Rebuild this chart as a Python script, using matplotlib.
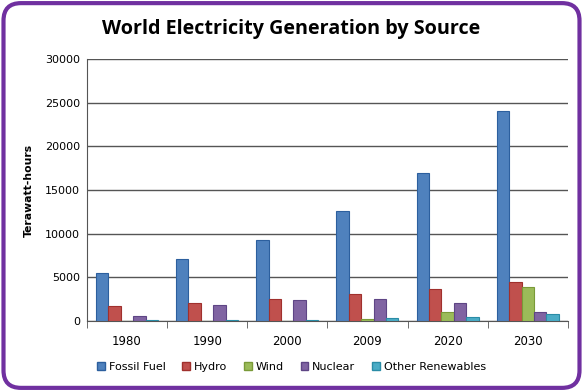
import matplotlib
matplotlib.use("Agg")
import matplotlib.pyplot as plt
from matplotlib.patches import FancyBboxPatch, Patch
import numpy as np

years = ["1980", "1990", "2000", "2009", "2020", "2030"]
series_names = ["Fossil Fuel", "Hydro", "Wind", "Nuclear", "Other Renewables"]
fossil = [5500, 7100, 9270, 12600, 16950, 24000]
hydro = [1720, 2060, 2520, 3090, 3660, 4470]
wind = [0, 40, 50, 270, 1030, 3900]
nuclear = [570, 1830, 2400, 2520, 2060, 1030]
other = [100, 100, 150, 340, 460, 800]
yticks = [0, 5000, 10000, 15000, 20000, 25000, 30000]

colors = ["#4F81BD", "#C0504D", "#9BBB59", "#8064A2", "#4BACC6"]
edges = ["#2C5F9E", "#A0302D", "#7A9A38", "#5E4585", "#2A8CA6"]

fig = plt.figure(figsize=(5.83, 3.91), dpi=100, facecolor="white")
border = FancyBboxPatch((0.006, 0.008), 0.988, 0.984, boxstyle="round,pad=0,rounding_size=0.03",
                        transform=fig.transFigure, facecolor="none", edgecolor="#7030A0",
                        linewidth=3, mutation_aspect=583/391, zorder=5)
fig.patches.append(border)

ax = fig.add_axes([0.149, 0.179, 0.825, 0.670])
ax.set_facecolor("none")
x = np.arange(len(years))
w = 0.155
data = [fossil, hydro, wind, nuclear, other]
for i, (vals, c, e) in enumerate(zip(data, colors, edges)):
    ax.bar(x + (i - 2) * w, vals, w, color=c, edgecolor=e, linewidth=0.8, zorder=3,
           label=series_names[i])

ax.set_xlim(-0.5, len(years) - 0.5)
ax.set_ylim(0, 30000)
ax.set_yticks(yticks)
ax.set_yticklabels([str(v) for v in yticks], fontsize=8, family="DejaVu Sans")
ax.yaxis.grid(True, color="#555555", linewidth=1, zorder=0)
ax.set_xticks(x)
ax.set_xticklabels(years, fontsize=8.5)
ax.tick_params(axis="x", length=0, pad=10)
ax.set_xticks(np.arange(-0.5, len(years)), minor=True)
ax.tick_params(axis="x", which="minor", length=5, color="#555555")
ax.tick_params(axis="y", length=0, pad=5)
for s in ["top", "right"]:
    ax.spines[s].set_visible(False)
ax.spines["left"].set_color("#555555")
ax.spines["bottom"].set_color("#555555")

ax.set_ylabel("Terawatt-hours", fontsize=7.8, fontweight="bold", labelpad=8)

fig.text(0.5, 0.925, "World Electricity Generation by Source", ha="center", va="center",
         fontsize=14.2, fontweight="bold", family="Open Sans")

handles = [Patch(facecolor=c, edgecolor=e) for c, e in zip(colors, edges)]
fig.legend(handles, series_names, loc="center", bbox_to_anchor=(0.5, 0.062), ncol=5,
           frameon=False, fontsize=8, handlelength=0.7, handleheight=0.7,
           handletextpad=0.35, columnspacing=1.5)

fig.savefig("out.png", dpi=100)
